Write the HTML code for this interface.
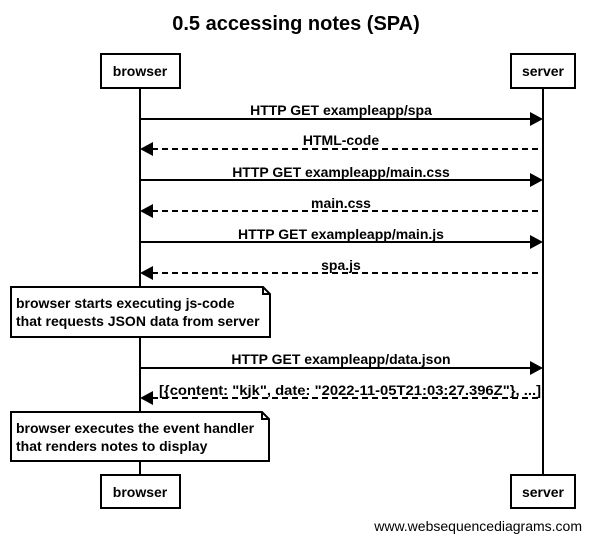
<!DOCTYPE html>
<html><head><style>
html,body{margin:0;padding:0;background:#fff;}
svg{display:block;font-family:"Liberation Sans",Arial,sans-serif;}
</style></head><body>
<svg width="590" height="542" viewBox="0 0 590 542" xmlns="http://www.w3.org/2000/svg">
<text x="296" y="30" font-size="20" font-weight="bold" text-anchor="middle">0.5 accessing notes (SPA)</text>
<g stroke="#000" stroke-width="2" fill="none">
<line x1="140" y1="88" x2="140" y2="475"/>
<line x1="543" y1="88" x2="543" y2="475"/>
</g>
<g stroke="#000" stroke-width="2" fill="#fff">
<rect x="101" y="54" width="79" height="34"/>
<rect x="511" y="54" width="64" height="34"/>
<rect x="101" y="475" width="79" height="33"/>
<rect x="511" y="475" width="64" height="33"/>
</g>
<g font-size="14" font-weight="bold" text-anchor="middle">
<text x="140" y="76">browser</text>
<text x="543" y="76">server</text>
<text x="140" y="497">browser</text>
<text x="543" y="497">server</text>
</g>
<g stroke="#000" stroke-width="2">
<line x1="140" y1="119" x2="531" y2="119"/>
<line x1="152" y1="149" x2="543" y2="149" stroke-dasharray="6,4"/>
<line x1="140" y1="180" x2="531" y2="180"/>
<line x1="152" y1="211" x2="543" y2="211" stroke-dasharray="6,4"/>
<line x1="140" y1="242" x2="531" y2="242"/>
<line x1="152" y1="273" x2="543" y2="273" stroke-dasharray="6,4"/>
<line x1="140" y1="368" x2="531" y2="368"/>
<line x1="152" y1="398" x2="543" y2="398" stroke-dasharray="6,4"/>
</g>
<g fill="#000">
<polygon points="543,119 530,112 530,126"/>
<polygon points="140,149 153,142 153,156"/>
<polygon points="543,180 530,173 530,187"/>
<polygon points="140,211 153,204 153,218"/>
<polygon points="543,242 530,235 530,249"/>
<polygon points="140,273 153,266 153,280"/>
<polygon points="543,368 530,361 530,375"/>
<polygon points="140,398 153,391 153,405"/>
</g>
<g font-size="14" font-weight="bold" text-anchor="middle">
<text x="341" y="115">HTTP GET exampleapp/spa</text>
<text x="341" y="145">HTML-code</text>
<text x="341" y="177">HTTP GET exampleapp/main.css</text>
<text x="341" y="208">main.css</text>
<text x="341" y="239">HTTP GET exampleapp/main.js</text>
<text x="341" y="270">spa.js</text>
<text x="341" y="364">HTTP GET exampleapp/data.json</text>
<text x="350" y="395" textLength="382" lengthAdjust="spacingAndGlyphs">[{content: "kjk", date: "2022-11-05T21:03:27.396Z"}, ...]</text>
</g>
<g stroke="#000" stroke-width="2" fill="#fff">
<path d="M11,287 H263 L270,294 V337 H11 Z"/>
<path d="M263,287 V294 H270" fill="none"/>
<path d="M11,412 H262 L269,419 V461 H11 Z"/>
<path d="M262,412 V419 H269" fill="none"/>
</g>
<g font-size="14" font-weight="bold">
<text x="16" y="308">browser starts executing js-code</text>
<text x="16" y="326">that requests JSON data from server</text>
<text x="16" y="433">browser executes the event handler</text>
<text x="16" y="451">that renders notes to display</text>
</g>
<text x="582" y="531" font-size="14" text-anchor="end">www.websequencediagrams.com</text>
</svg>
</body></html>
